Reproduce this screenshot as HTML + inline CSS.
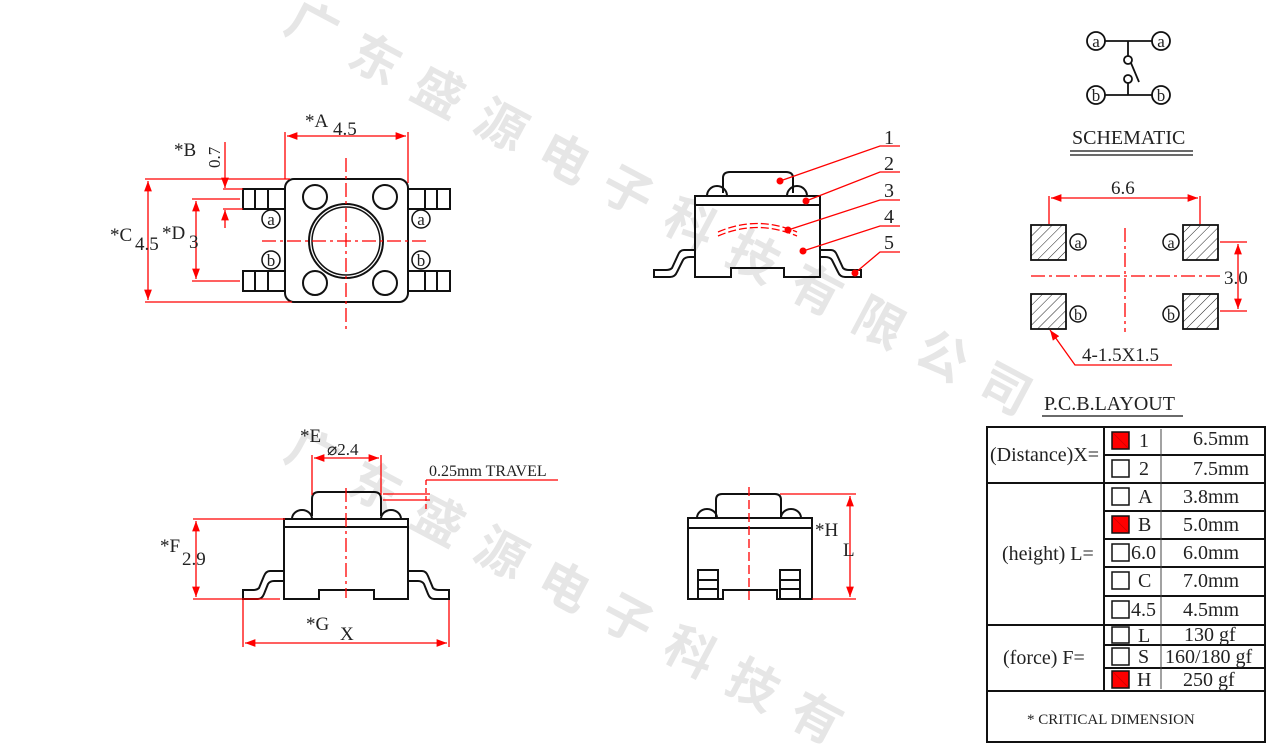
<!DOCTYPE html>
<html><head><meta charset="utf-8"><style>
html,body{margin:0;padding:0;background:#fff;width:1266px;height:745px;overflow:hidden;}
svg{display:block;overflow:hidden;}
text{font-family:"Liberation Serif",serif;fill:#222;}
.wm text{font-family:"Noto Sans CJK SC",sans-serif;fill:#e6e6e6;font-size:50px;font-weight:bold;}
.c{text-anchor:middle;}
</style></head><body>
<svg width="1266" height="745" viewBox="0 0 1266 745" xmlns="http://www.w3.org/2000/svg">
<defs>
<pattern id="h" width="7" height="7" patternUnits="userSpaceOnUse" patternTransform="rotate(45)">
<line x1="0" y1="0" x2="0" y2="7" stroke="#222" stroke-width="1"/></pattern>
<marker id="ar" markerWidth="8" markerHeight="6" refX="8" refY="3" orient="auto-start-reverse"><path d="M0,0 L8,3 L0,6z" fill="red"/></marker>
<clipPath id="cp"><rect x="0" y="0" width="1266" height="745"/></clipPath>
</defs>
<!-- watermark -->
<g class="wm" clip-path="url(#cp)">
<text transform="translate(282,30) rotate(28)">广</text>
<text transform="translate(345,63) rotate(28)">东</text>
<text transform="translate(408,96) rotate(28)">盛</text>
<text transform="translate(471,129) rotate(28)">源</text>
<text transform="translate(534,162) rotate(28)">电</text>
<text transform="translate(597,195) rotate(28)">子</text>
<text transform="translate(660,228) rotate(28)">科</text>
<text transform="translate(723,261) rotate(28)">技</text>
<text transform="translate(786,294) rotate(28)">有</text>
<text transform="translate(849,327) rotate(28)">限</text>
<text transform="translate(912,360) rotate(28)">公</text>
<text transform="translate(975,393) rotate(28)">司</text>
<text transform="translate(282,458) rotate(28)">广</text>
<text transform="translate(345,491) rotate(28)">东</text>
<text transform="translate(408,524) rotate(28)">盛</text>
<text transform="translate(471,557) rotate(28)">源</text>
<text transform="translate(534,590) rotate(28)">电</text>
<text transform="translate(597,623) rotate(28)">子</text>
<text transform="translate(660,656) rotate(28)">科</text>
<text transform="translate(723,689) rotate(28)">技</text>
<text transform="translate(786,722) rotate(28)">有</text>
</g>

<!-- TOP VIEW -->
<g stroke="#111" stroke-width="2" fill="none">
<rect x="285" y="179" width="123" height="123" rx="9"/>
<circle cx="315" cy="197" r="12"/><circle cx="385" cy="197" r="12"/>
<circle cx="315" cy="283" r="12"/><circle cx="385" cy="283" r="12"/>
<circle cx="346" cy="241" r="37"/><circle cx="346" cy="241" r="34" stroke-width="1.5"/>
<rect x="243" y="189" width="42" height="20"/><line x1="255" y1="189" x2="255" y2="209"/><line x1="268" y1="189" x2="268" y2="209"/>
<rect x="243" y="271" width="42" height="20"/><line x1="255" y1="271" x2="255" y2="291"/><line x1="268" y1="271" x2="268" y2="291"/>
<rect x="408" y="189" width="42" height="20"/><line x1="425" y1="189" x2="425" y2="209"/><line x1="437" y1="189" x2="437" y2="209"/>
<rect x="408" y="271" width="42" height="20"/><line x1="425" y1="271" x2="425" y2="291"/><line x1="437" y1="271" x2="437" y2="291"/>
<circle cx="271" cy="219" r="9" stroke-width="1.5"/><circle cx="271" cy="260" r="9" stroke-width="1.5"/>
<circle cx="421" cy="219" r="9" stroke-width="1.5"/><circle cx="421" cy="260" r="9" stroke-width="1.5"/>
</g>
<g font-size="17" class="c"><text x="271" y="225">a</text><text x="271" y="266">b</text><text x="421" y="225">a</text><text x="421" y="266">b</text></g>
<g stroke="red" stroke-width="1.3" fill="none">
<line x1="262" y1="241" x2="430" y2="241" stroke-dasharray="14,4,3,4"/>
<line x1="346" y1="158" x2="346" y2="332" stroke-dasharray="14,4,3,4"/>
<line x1="285" y1="132" x2="285" y2="179"/><line x1="408" y1="132" x2="408" y2="183"/>
<line x1="287" y1="136" x2="406" y2="136" marker-start="url(#ar)" marker-end="url(#ar)"/>
<line x1="145" y1="179" x2="290" y2="179"/><line x1="145" y1="302" x2="292" y2="302"/>
<line x1="148" y1="181" x2="148" y2="300" marker-start="url(#ar)" marker-end="url(#ar)"/>
<line x1="192" y1="199" x2="240" y2="199"/><line x1="192" y1="281" x2="240" y2="281"/>
<line x1="196" y1="201" x2="196" y2="279" marker-start="url(#ar)" marker-end="url(#ar)"/>
<line x1="223" y1="189" x2="243" y2="189"/><line x1="223" y1="209" x2="243" y2="209"/>
<line x1="225" y1="142" x2="225" y2="188" marker-end="url(#ar)"/>
<line x1="225" y1="228" x2="225" y2="210" marker-end="url(#ar)"/>
</g>
<g font-size="19">
<text x="305" y="127">*A</text><text x="333" y="135">4.5</text>
<text x="110" y="241">*C</text><text x="135" y="250">4.5</text>
<text x="162" y="239">*D</text><text x="189" y="248">3</text>
<text x="174" y="156">*B</text>
<text transform="translate(220,168) rotate(-90)" font-size="17">0.7</text>
</g>

<!-- SIDE VIEW WITH LABELS -->
<g stroke="#111" stroke-width="2" fill="none">
<path d="M723,193 L723,178 Q723,172 730,172 L786,172 Q793,172 793,178 L793,193"/>
<path d="M707,196 A10,10 0 0 1 727,196"/><path d="M787,196 A10,10 0 0 1 807,196"/>
<rect x="695" y="196" width="125" height="9"/>
<path d="M695,205 L695,277 L731,277 L731,268 L784,268 L784,277 L820,277 L820,205"/>
<path d="M695,250 L684,250 Q680,250 678,255 L672,268 Q670,270 666,270 L654,270 L654,277 L670,277 Q675,277 677,272 L683,260 Q685,257 690,257 L695,257"/>
<path d="M820,250 L831,250 Q835,250 837,255 L843,268 Q845,270 849,270 L861,270 L861,277 L845,277 Q840,277 838,272 L832,260 Q830,257 825,257 L820,257"/>
</g>
<g stroke="red" stroke-width="1.3" fill="none">
<path d="M718,232 Q757,215 797,232" stroke-dasharray="8,3"/>
<path d="M718,236 Q757,219 797,236" stroke-dasharray="8,3"/>
<polyline points="780,181 880,146 900,146"/>
<polyline points="806,201 880,172 900,172"/>
<polyline points="788,230 880,200 900,200"/>
<polyline points="803,251 880,226 900,226"/>
<polyline points="855,273 880,252 900,252"/>
</g>
<g fill="red"><circle cx="780" cy="181" r="3.5"/><circle cx="806" cy="201" r="3.5"/><circle cx="788" cy="230" r="3.5"/><circle cx="803" cy="251" r="3.5"/><circle cx="855" cy="273" r="3.5"/></g>
<g font-size="20"><text x="884" y="144">1</text><text x="884" y="170">2</text><text x="884" y="197">3</text><text x="884" y="223">4</text><text x="884" y="249">5</text></g>

<!-- FRONT VIEW BOTTOM LEFT -->
<g stroke="#111" stroke-width="2" fill="none">
<path d="M312,516 L312,499 Q312,492 319,492 L374,492 Q381,492 381,499 L381,516"/>
<path d="M292,519 A10,9 0 0 1 312,519"/><path d="M381,519 A10,9 0 0 1 401,519"/>
<rect x="284" y="519" width="124" height="8"/>
<path d="M284,527 L284,599 L319,599 L319,590 L374,590 L374,599 L408,599 L408,527"/>
<path d="M284,571 L270,571 Q266,571 264,576 L259,588 Q257,590 253,590 L243,590 L243,599 L258,599 Q262,599 264,594 L268,584 Q270,581 274,581 L284,581"/>
<path d="M408,571 L422,571 Q426,571 428,576 L433,588 Q435,590 439,590 L449,590 L449,599 L434,599 Q430,599 428,594 L424,584 Q422,581 418,581 L408,581"/>
</g>
<g stroke="red" stroke-width="1.3" fill="none">
<line x1="346" y1="488" x2="346" y2="598" stroke-dasharray="14,4,3,4"/>
<line x1="312" y1="455" x2="312" y2="495"/><line x1="381" y1="455" x2="381" y2="495"/>
<line x1="314" y1="458" x2="379" y2="458" marker-start="url(#ar)" marker-end="url(#ar)"/>
<line x1="383" y1="494" x2="430" y2="494"/><line x1="383" y1="500" x2="430" y2="500"/>
<line x1="426" y1="480" x2="426" y2="510" stroke-dasharray="5,3"/>
<line x1="426" y1="480" x2="558" y2="480"/>
<line x1="193" y1="519" x2="285" y2="519"/><line x1="193" y1="599" x2="280" y2="599"/>
<line x1="196" y1="521" x2="196" y2="597" marker-start="url(#ar)" marker-end="url(#ar)"/>
<line x1="243" y1="600" x2="243" y2="647"/><line x1="449" y1="600" x2="449" y2="647"/>
<line x1="245" y1="643" x2="447" y2="643" marker-start="url(#ar)" marker-end="url(#ar)"/>
</g>
<g font-size="19">
<text x="300" y="442">*E</text><text x="327" y="455" font-size="17">⌀2.4</text>
<text x="429" y="476" font-size="16">0.25mm  TRAVEL</text>
<text x="160" y="552">*F</text><text x="182" y="565">2.9</text>
<text x="306" y="630">*G</text><text x="340" y="640">X</text>
</g>

<!-- FRONT VIEW BOTTOM RIGHT -->
<g stroke="#111" stroke-width="2" fill="none">
<path d="M716,518 L716,500 Q716,494 722,494 L775,494 Q781,494 781,500 L781,518"/>
<path d="M697,518 A10,9 0 0 1 717,518"/><path d="M781,518 A10,9 0 0 1 801,518"/>
<rect x="688" y="518" width="124" height="10"/>
<path d="M688,528 L688,599 L723,599 L723,590 L777,590 L777,599 L812,599 L812,528"/>
<rect x="698" y="570" width="20" height="29"/><line x1="698" y1="580" x2="718" y2="580"/><line x1="698" y1="589" x2="718" y2="589"/>
<rect x="780" y="570" width="20" height="29"/><line x1="780" y1="580" x2="800" y2="580"/><line x1="780" y1="589" x2="800" y2="589"/>
</g>
<g stroke="red" stroke-width="1.3" fill="none">
<line x1="749" y1="487" x2="749" y2="604" stroke-dasharray="9,4"/>
<line x1="780" y1="494" x2="856" y2="494"/><line x1="812" y1="599" x2="856" y2="599"/>
<line x1="850" y1="496" x2="850" y2="597" marker-start="url(#ar)" marker-end="url(#ar)"/>
</g>
<g font-size="19"><text x="815" y="536">*H</text><text x="843" y="556">L</text></g>

<!-- SCHEMATIC -->
<g stroke="#111" stroke-width="1.8" fill="none">
<circle cx="1096" cy="41" r="9"/><circle cx="1161" cy="41" r="9"/>
<circle cx="1096" cy="95" r="9"/><circle cx="1161" cy="95" r="9"/>
<line x1="1105" y1="41" x2="1152" y2="41"/><line x1="1105" y1="95" x2="1152" y2="95"/>
<line x1="1128" y1="41" x2="1128" y2="56"/><line x1="1128" y1="83" x2="1128" y2="95"/>
<circle cx="1128" cy="60" r="4"/><circle cx="1128" cy="79" r="4"/>
<line x1="1131" y1="63" x2="1139" y2="82"/>
</g>
<g font-size="17" class="c"><text x="1096" y="47">a</text><text x="1161" y="47">a</text><text x="1096" y="101">b</text><text x="1161" y="101">b</text></g>
<text x="1072" y="144" font-size="20">SCHEMATIC</text>
<line x1="1070" y1="151" x2="1193" y2="151" stroke="#111" stroke-width="1.3"/>
<line x1="1070" y1="155" x2="1193" y2="155" stroke="#111" stroke-width="1.3"/>

<!-- PCB LAYOUT -->
<g stroke="#111" stroke-width="1.8">
<rect x="1031" y="225" width="35" height="35" fill="url(#h)"/>
<rect x="1183" y="225" width="35" height="35" fill="url(#h)"/>
<rect x="1031" y="294" width="35" height="35" fill="url(#h)"/>
<rect x="1183" y="294" width="35" height="35" fill="url(#h)"/>
<g fill="none" stroke-width="1.5">
<circle cx="1078" cy="242" r="8"/><circle cx="1171" cy="242" r="8"/>
<circle cx="1078" cy="314" r="8"/><circle cx="1171" cy="314" r="8"/></g>
</g>
<g font-size="16" class="c"><text x="1078" y="248">a</text><text x="1171" y="248">a</text><text x="1078" y="320">b</text><text x="1171" y="320">b</text></g>
<g stroke="red" stroke-width="1.3" fill="none">
<line x1="1031" y1="276" x2="1222" y2="276" stroke-dasharray="14,4,3,4"/>
<line x1="1125" y1="228" x2="1125" y2="332" stroke-dasharray="14,4,3,4"/>
<line x1="1049" y1="196" x2="1049" y2="224"/><line x1="1200" y1="196" x2="1200" y2="224"/>
<line x1="1051" y1="198" x2="1198" y2="198" marker-start="url(#ar)" marker-end="url(#ar)"/>
<line x1="1220" y1="242" x2="1247" y2="242"/><line x1="1220" y1="311" x2="1247" y2="311"/>
<line x1="1238" y1="244" x2="1238" y2="309" marker-start="url(#ar)" marker-end="url(#ar)"/>
<polyline points="1050,330 1075,365 1172,365" marker-start="url(#ar)"/>
</g>
<g font-size="19"><text x="1111" y="194">6.6</text><text x="1224" y="284">3.0</text><text x="1082" y="361">4-1.5X1.5</text></g>
<text x="1044" y="410" font-size="20">P.C.B.LAYOUT</text>
<line x1="1042" y1="416" x2="1183" y2="416" stroke="#111" stroke-width="1.3"/>

<!-- TABLE -->
<g stroke="#111" stroke-width="2" fill="none">
<rect x="987" y="427" width="278" height="315"/>
<line x1="987" y1="483" x2="1265" y2="483"/>
<line x1="987" y1="625" x2="1265" y2="625"/>
<line x1="987" y1="691" x2="1265" y2="691"/>
<line x1="1104" y1="427" x2="1104" y2="691"/>
<line x1="1104" y1="455" x2="1265" y2="455"/>
<line x1="1104" y1="511" x2="1265" y2="511"/>
<line x1="1104" y1="539" x2="1265" y2="539"/>
<line x1="1104" y1="567" x2="1265" y2="567"/>
<line x1="1104" y1="596" x2="1265" y2="596"/>
<line x1="1104" y1="645" x2="1265" y2="645"/>
<line x1="1104" y1="668" x2="1265" y2="668"/>
</g>
<line x1="1161" y1="429" x2="1161" y2="689" stroke="#444" stroke-width="1"/>
<g stroke="#111" stroke-width="1.5">
<rect x="1112" y="432" width="17" height="17" fill="red"/>
<rect x="1112" y="460" width="17" height="17" fill="#fff"/>
<rect x="1112" y="488" width="17" height="17" fill="#fff"/>
<rect x="1112" y="516" width="17" height="17" fill="red"/>
<rect x="1112" y="544" width="17" height="17" fill="#fff"/>
<rect x="1112" y="572" width="17" height="17" fill="#fff"/>
<rect x="1112" y="601" width="17" height="17" fill="#fff"/>
<rect x="1112" y="627" width="17" height="16" fill="#fff"/>
<rect x="1112" y="648" width="17" height="17" fill="#fff"/>
<rect x="1112" y="671" width="17" height="17" fill="red"/>
</g>
<g stroke="#c00" stroke-width="0.8"><line x1="1113" y1="433" x2="1128" y2="448"/><line x1="1113" y1="517" x2="1128" y2="532"/><line x1="1113" y1="672" x2="1128" y2="687"/></g>
<g font-size="20">
<text x="990" y="461">(Distance)X=</text>
<text x="1002" y="560">(height) L=</text>
<text x="1003" y="664">(force) F=</text>
<text x="1139" y="447">1</text><text x="1139" y="475">2</text><text x="1138" y="503">A</text><text x="1138" y="531">B</text>
<text x="1131" y="559">6.0</text><text x="1138" y="587">C</text><text x="1131" y="616">4.5</text>
<text x="1138" y="642">L</text><text x="1138" y="663">S</text><text x="1137" y="686">H</text>
<text x="1193" y="445">6.5mm</text><text x="1193" y="475">7.5mm</text>
<text x="1183" y="503">3.8mm</text><text x="1183" y="531">5.0mm</text><text x="1183" y="559">6.0mm</text>
<text x="1183" y="587">7.0mm</text><text x="1183" y="616">4.5mm</text>
<text x="1184" y="641">130 gf</text><text x="1165" y="663">160/180 gf</text><text x="1183" y="686">250 gf</text>
</g>
<text x="1027" y="724" font-size="15">* CRITICAL  DIMENSION</text>
</svg>
</body></html>
